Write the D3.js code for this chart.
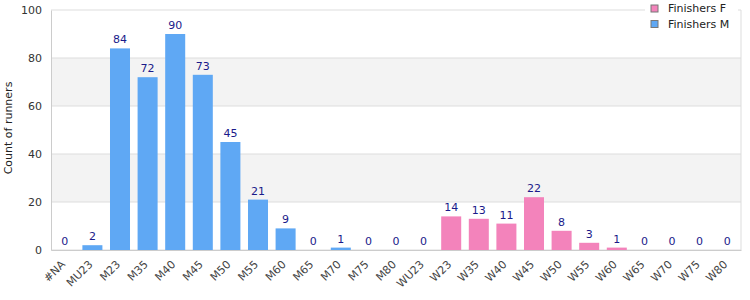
<!DOCTYPE html>
<html>
<head>
<meta charset="utf-8">
<script src="https://cdn.jsdelivr.net/npm/d3@7"></script>
<style>
  body { margin: 0; background: #fff; }
  svg { display: block; font-family: "DejaVu Sans", Verdana, sans-serif; }
</style>
</head>
<body>
<svg id="chart"></svg>
<script>
// categories and counts per series
const categories = ['#NA', 'MU23', 'M23', 'M35', 'M40', 'M45', 'M50', 'M55', 'M60', 'M65', 'M70', 'M75', 'M80',
  'WU23', 'W23', 'W35', 'W40', 'W45', 'W50', 'W55', 'W60', 'W65', 'W70', 'W75', 'W80'];
const finishersM = [0, 2, 84, 72, 90, 73, 45, 21, 9, 0, 1, 0, 0, 0, 0, 0, 0, 0, 0, 0, 0, 0, 0, 0, 0];
const finishersF = [0, 0, 0, 0, 0, 0, 0, 0, 0, 0, 0, 0, 0, 0, 14, 13, 11, 22, 8, 3, 1, 0, 0, 0, 0];
const yTicks = [0, 20, 40, 60, 80, 100];
const seriesNames = ['Finishers F', 'Finishers M'];

const W = 750, H = 300;
const margin = { top: 10, right: 9, bottom: 50, left: 51 };
const width = W - margin.left - margin.right;
const height = H - margin.top - margin.bottom;

const colors = { 'Finishers F': '#f383bb', 'Finishers M': '#5fa8f4' };

const svg = d3.select('#chart').attr('width', W).attr('height', H);
const g = svg.append('g').attr('transform', `translate(${margin.left},${margin.top})`);

const x = d3.scaleBand().domain(categories).range([0, width]).paddingInner(0.275).paddingOuter(0.1375);
const y = d3.scaleLinear().domain([0, 100]).range([height, 0]);

// alternating bands
[[20, 40], [60, 80]].forEach(([a, b]) => {
  g.append('rect')
    .attr('x', 0).attr('width', width)
    .attr('y', y(b)).attr('height', y(a) - y(b))
    .attr('fill', '#f3f3f3');
});

// grid lines
g.selectAll('.grid').data(yTicks).enter().append('line')
  .attr('x1', 0).attr('x2', width)
  .attr('y1', d => y(d)).attr('y2', d => y(d))
  .attr('stroke', '#dddddd');

// right border
g.append('line').attr('x1', width).attr('x2', width).attr('y1', 0).attr('y2', height).attr('stroke', '#dddddd');

// bars
const rows = categories.map((c, i) => ({ c, m: finishersM[i], f: finishersF[i] }));
rows.forEach(r => {
  if (r.m > 0) {
    g.append('rect').attr('x', x(r.c)).attr('width', x.bandwidth())
      .attr('y', y(r.m)).attr('height', y(0) - y(r.m)).attr('fill', colors['Finishers M']);
  }
  if (r.f > 0) {
    g.append('rect').attr('x', x(r.c)).attr('width', x.bandwidth())
      .attr('y', y(r.m + r.f)).attr('height', y(0) - y(r.f)).attr('fill', colors['Finishers F']);
  }
  g.append('text')
    .attr('x', x(r.c) + x.bandwidth() / 2)
    .attr('y', y(r.m + r.f) - 5)
    .attr('text-anchor', 'middle')
    .attr('font-size', 11)
    .attr('fill', '#1a1a8a')
    .text(r.m + r.f);
});

// axes
const yAxis = g.append('g').call(d3.axisLeft(y).tickValues(yTicks).tickSize(0).tickPadding(9));
yAxis.select('.domain').attr('stroke', '#cccccc');
yAxis.selectAll('text').attr('font-size', 11).attr('fill', '#333').attr('font-family', '"DejaVu Sans", sans-serif');

const xAxis = g.append('g').attr('transform', `translate(0,${height})`)
  .call(d3.axisBottom(x).tickSize(0).tickPadding(0));
xAxis.select('.domain').attr('stroke', '#cccccc');
xAxis.selectAll('text')
  .attr('font-size', 11).attr('fill', '#444').attr('font-family', '"DejaVu Sans", sans-serif')
  .attr('text-anchor', 'end')
  .attr('dy', 0)
  .attr('transform', 'translate(1,15) rotate(-45)');

// y label
svg.append('text')
  .attr('transform', `translate(8,${margin.top + height / 2 - 2}) rotate(-90)`)
  .attr('text-anchor', 'middle')
  .attr('dy', '0.35em')
  .attr('font-size', 11)
  .attr('fill', '#222')
  .text('Count of runners');

// legend
const legend = svg.append('g').attr('transform', 'translate(645,0)');
legend.append('rect').attr('x', 0).attr('y', 0).attr('width', 93).attr('height', 32).attr('fill', '#fff');
seriesNames.forEach((s, i) => {
  legend.append('rect').attr('x', 6).attr('y', 5 + i * 15.5).attr('width', 7).attr('height', 7)
    .attr('fill', colors[s]).attr('stroke', '#777').attr('stroke-width', 1);
  legend.append('text').attr('x', 23).attr('y', 8.5 + i * 15.5).attr('dy', '0.35em')
    .attr('font-size', 11).attr('fill', '#222').text(s);
});
</script>
</body>
</html>
